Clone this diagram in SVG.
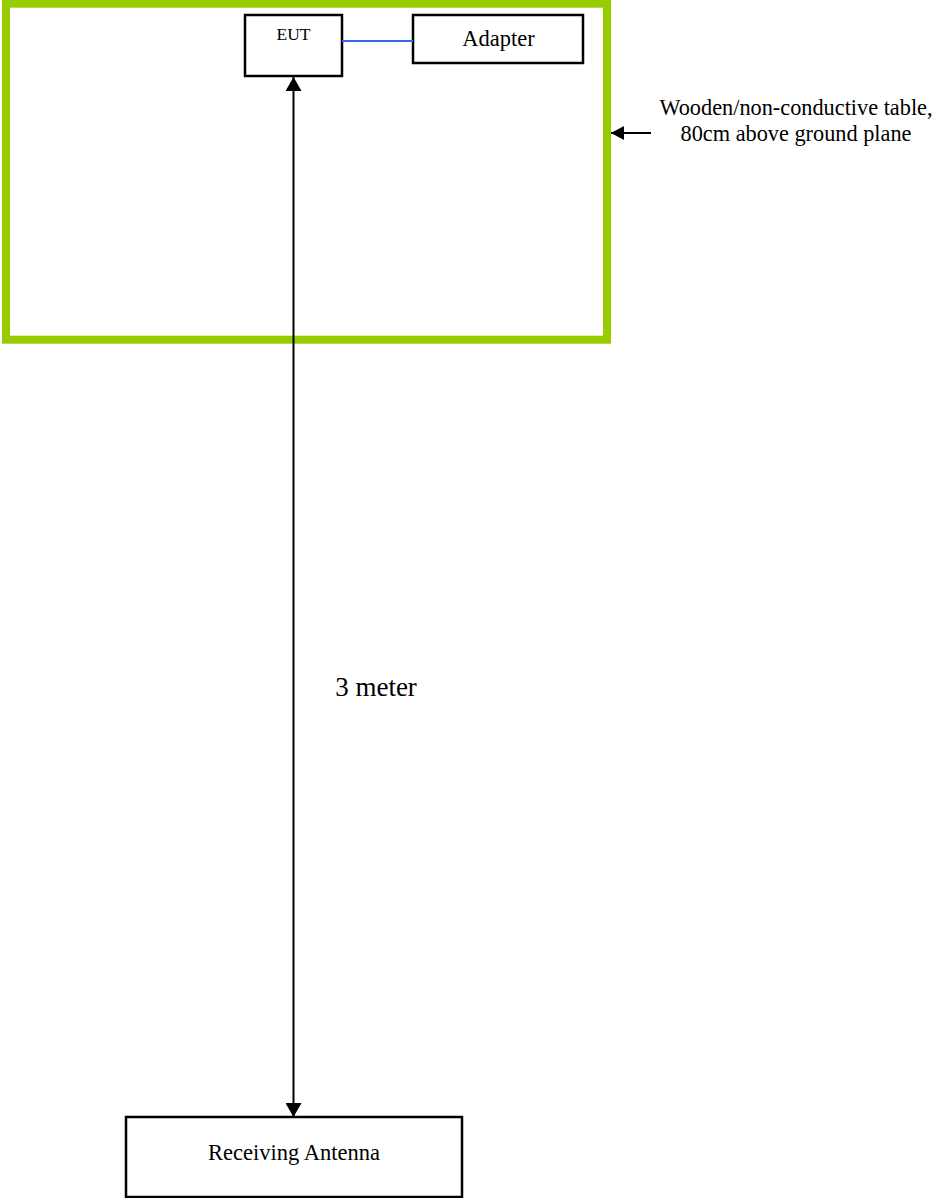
<svg xmlns="http://www.w3.org/2000/svg" width="939" height="1198" viewBox="0 0 939 1198">
<style>
.box{fill:#fff;stroke:#000;stroke-width:2.5}
.t{font-family:"Liberation Serif","Times New Roman",serif;fill:#000;text-anchor:middle}
.ln{stroke:#000;stroke-width:2;fill:none}
</style>
<defs>
<marker id="ah" viewBox="0 0 14 16" refX="14" refY="8" markerWidth="14" markerHeight="16" markerUnits="userSpaceOnUse" orient="auto-start-reverse">
<path d="M0,0 L14,8 L0,16 Z" fill="#000"/>
</marker>
<marker id="ah2" viewBox="0 0 13 14" refX="13" refY="7" markerWidth="13" markerHeight="14" markerUnits="userSpaceOnUse" orient="auto">
<path d="M0,0 L13,7 L0,14 Z" fill="#000"/>
</marker>
</defs>
<rect width="939" height="1198" fill="#fff"/>
<g id="table">
<rect x="6" y="3.7" width="601" height="336" fill="none" stroke="#99cc00" stroke-width="8"/>
</g>
<g id="eut">
<rect class="box" x="245" y="15" width="97" height="61"/>
<text class="t" x="293.5" y="40" font-size="17.5">EUT</text>
</g>
<g id="adapter">
<rect class="box" x="413" y="15" width="170" height="48"/>
<text class="t" x="498.5" y="46" font-size="22.5">Adapter</text>
</g>
<g id="antenna">
<rect class="box" x="126" y="1117" width="336" height="80"/>
<text class="t" x="294" y="1160" font-size="22.5">Receiving Antenna</text>
</g>
<g id="table-label">
<text class="t" x="796" y="115" font-size="22.3">Wooden/non-conductive table,</text>
<text class="t" x="796" y="141" font-size="22.3">80cm above ground plane</text>
</g>
<g id="distance-label">
<text class="t" x="376" y="696" font-size="27">3 meter</text>
</g>
<g id="connectors">
<line x1="342" y1="41" x2="413" y2="41" stroke="#3366ee" stroke-width="2"/>
<line class="ln" x1="293.5" y1="77" x2="293.5" y2="1117" marker-start="url(#ah)" marker-end="url(#ah)"/>
<line class="ln" x1="651" y1="133" x2="611" y2="133" marker-end="url(#ah2)"/>
</g>
</svg>
